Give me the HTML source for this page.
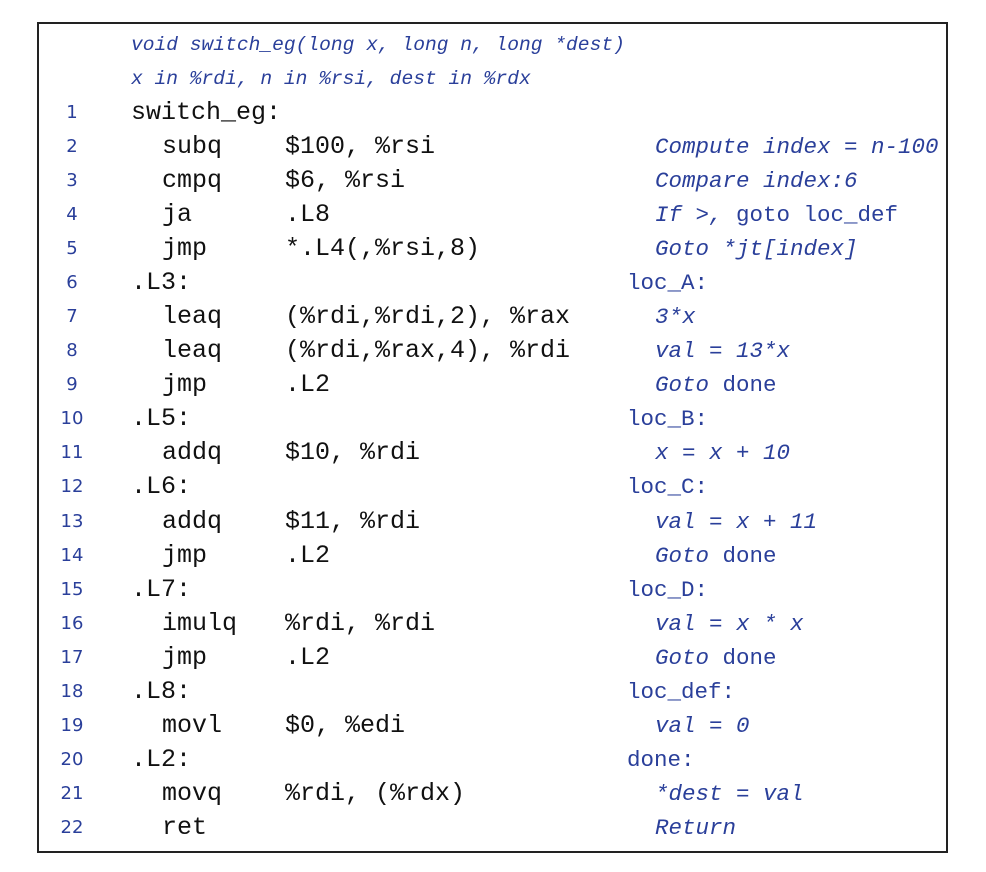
<!DOCTYPE html>
<html><head><meta charset="utf-8"><style>
body{margin:0;width:986px;height:872px;background:#fff;position:relative;overflow:hidden}
.box{position:absolute;left:37px;top:22px;width:911px;height:831px;border:2px solid #222;box-sizing:border-box}
div.t{position:absolute;line-height:34px;height:34px;white-space:pre}
.n{font-family:"DejaVu Sans","Liberation Sans",sans-serif;font-size:18px;color:#2a3f9a;width:40px;text-align:center;left:52px}
.c{font-family:"Liberation Mono",monospace;font-size:25px;color:#111}
.m{font-family:"Liberation Mono",monospace;font-size:22.5px;color:#2a3f9a;font-style:italic}
.l{font-family:"Liberation Mono",monospace;font-size:22.5px;color:#2a3f9a}
.h{font-family:"Liberation Mono",monospace;font-size:19.6px;color:#2a3f9a;font-style:italic}
</style></head><body>
<div class="box"></div>
<div class="t h" style="left:131px;top:28px">void switch_eg(long x, long n, long *dest)</div>
<div class="t h" style="left:131px;top:62px">x in %rdi, n in %rsi, dest in %rdx</div>

<div class="t n" style="top:96px">1</div><div class="t c" style="left:131px;top:96px">switch_eg:</div>
<div class="t n" style="top:130px">2</div><div class="t c" style="left:162px;top:130px">subq</div><div class="t c" style="left:285px;top:130px">$100, %rsi</div><div class="t m" style="left:655px;top:130px">Compute index = n-100</div>
<div class="t n" style="top:164px">3</div><div class="t c" style="left:162px;top:164px">cmpq</div><div class="t c" style="left:285px;top:164px">$6, %rsi</div><div class="t m" style="left:655px;top:164px">Compare index:6</div>
<div class="t n" style="top:198px">4</div><div class="t c" style="left:162px;top:198px">ja</div><div class="t c" style="left:285px;top:198px">.L8</div><div class="t m" style="left:655px;top:198px">If &gt;, <span style="font-style:normal">goto loc_def</span></div>
<div class="t n" style="top:232px">5</div><div class="t c" style="left:162px;top:232px">jmp</div><div class="t c" style="left:285px;top:232px">*.L4(,%rsi,8)</div><div class="t m" style="left:655px;top:232px">Goto *jt[index]</div>
<div class="t n" style="top:266px">6</div><div class="t c" style="left:131px;top:266px">.L3:</div><div class="t l" style="left:627px;top:266px">loc_A:</div>
<div class="t n" style="top:300px">7</div><div class="t c" style="left:162px;top:300px">leaq</div><div class="t c" style="left:285px;top:300px">(%rdi,%rdi,2), %rax</div><div class="t m" style="left:655px;top:300px">3*x</div>
<div class="t n" style="top:334px">8</div><div class="t c" style="left:162px;top:334px">leaq</div><div class="t c" style="left:285px;top:334px">(%rdi,%rax,4), %rdi</div><div class="t m" style="left:655px;top:334px">val = 13*x</div>
<div class="t n" style="top:368px">9</div><div class="t c" style="left:162px;top:368px">jmp</div><div class="t c" style="left:285px;top:368px">.L2</div><div class="t m" style="left:655px;top:368px">Goto <span style="font-style:normal">done</span></div>
<div class="t n" style="top:402px">10</div><div class="t c" style="left:131px;top:402px">.L5:</div><div class="t l" style="left:627px;top:402px">loc_B:</div>
<div class="t n" style="top:436px">11</div><div class="t c" style="left:162px;top:436px">addq</div><div class="t c" style="left:285px;top:436px">$10, %rdi</div><div class="t m" style="left:655px;top:436px">x = x + 10</div>
<div class="t n" style="top:470px">12</div><div class="t c" style="left:131px;top:470px">.L6:</div><div class="t l" style="left:627px;top:470px">loc_C:</div>
<div class="t n" style="top:505px">13</div><div class="t c" style="left:162px;top:505px">addq</div><div class="t c" style="left:285px;top:505px">$11, %rdi</div><div class="t m" style="left:655px;top:505px">val = x + 11</div>
<div class="t n" style="top:539px">14</div><div class="t c" style="left:162px;top:539px">jmp</div><div class="t c" style="left:285px;top:539px">.L2</div><div class="t m" style="left:655px;top:539px">Goto <span style="font-style:normal">done</span></div>
<div class="t n" style="top:573px">15</div><div class="t c" style="left:131px;top:573px">.L7:</div><div class="t l" style="left:627px;top:573px">loc_D:</div>
<div class="t n" style="top:607px">16</div><div class="t c" style="left:162px;top:607px">imulq</div><div class="t c" style="left:285px;top:607px">%rdi, %rdi</div><div class="t m" style="left:655px;top:607px">val = x * x</div>
<div class="t n" style="top:641px">17</div><div class="t c" style="left:162px;top:641px">jmp</div><div class="t c" style="left:285px;top:641px">.L2</div><div class="t m" style="left:655px;top:641px">Goto <span style="font-style:normal">done</span></div>
<div class="t n" style="top:675px">18</div><div class="t c" style="left:131px;top:675px">.L8:</div><div class="t l" style="left:627px;top:675px">loc_def:</div>
<div class="t n" style="top:709px">19</div><div class="t c" style="left:162px;top:709px">movl</div><div class="t c" style="left:285px;top:709px">$0, %edi</div><div class="t m" style="left:655px;top:709px">val = 0</div>
<div class="t n" style="top:743px">20</div><div class="t c" style="left:131px;top:743px">.L2:</div><div class="t l" style="left:627px;top:743px">done:</div>
<div class="t n" style="top:777px">21</div><div class="t c" style="left:162px;top:777px">movq</div><div class="t c" style="left:285px;top:777px">%rdi, (%rdx)</div><div class="t m" style="left:655px;top:777px">*dest = val</div>
<div class="t n" style="top:811px">22</div><div class="t c" style="left:162px;top:811px">ret</div><div class="t m" style="left:655px;top:811px">Return</div>
</body></html>
